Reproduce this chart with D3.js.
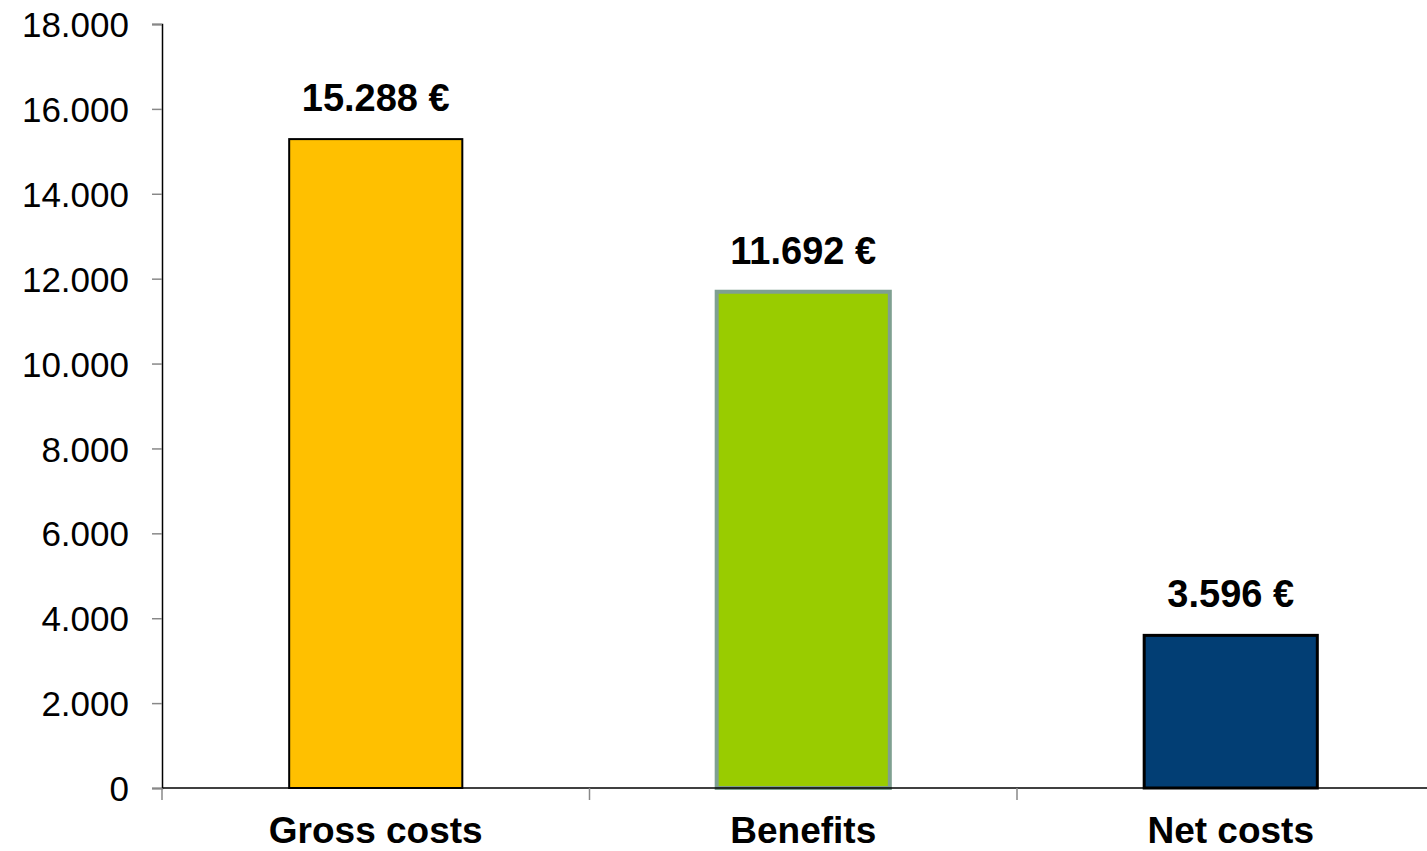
<!DOCTYPE html>
<html>
<head>
<meta charset="utf-8">
<script src="https://cdn.jsdelivr.net/npm/d3@7"></script>
<style>
  body { margin: 0; background: #fff; }
  text { font-family: "Liberation Sans", Arial, sans-serif; }
</style>
</head>
<body>
<svg id="chart"></svg>
<script>
// data
let categories = ["Gross costs", "Benefits", "Net costs"];
let values = [15288, 11692, 3596];
let valueLabels = ["15.288 €", "11.692 €", "3.596 €"];
let yTicks = [0, 2000, 4000, 6000, 8000, 10000, 12000, 14000, 16000, 18000];

let w = 1427, h = 851;
let plotLeft = 162, plotRight = 1444.5, plotTop = 24, plotBottom = 788;

let fills = ["#FFC000", "#99CC00", "#023E74"];
let strokes = ["#000", "#7FA091", "#000"];
let strokeW = [2, 4, 3];

let svg = d3.select("#chart")
    .attr("width", w)
    .attr("height", h);

let x = d3.scaleBand()
    .domain(categories)
    .range([plotLeft, plotRight])
    .padding(0);

let y = d3.scaleLinear()
    .domain([0, 18000])
    .range([plotBottom, plotTop]);

let fmt = d => d === 0 ? "0" : d3.format(",")(d).replace(/,/g, ".");

// y axis
let yAxis = d3.axisLeft(y)
    .tickValues(yTicks)
    .tickFormat(fmt)
    .tickSize(10)
    .tickPadding(23);

let gy = svg.append("g")
    .attr("transform", "translate(" + plotLeft + ",0)")
    .call(yAxis);
gy.select(".domain").attr("stroke", "#000").attr("stroke-width", 1.5);
gy.selectAll(".tick line").attr("stroke", "#888").attr("stroke-width", 1.5);
gy.selectAll(".tick text")
    .attr("fill", "#000")
    .style("font-size", "35px")
    .attr("dy", "0.36em");

// bars
let barW = x.bandwidth() * 0.405;
svg.selectAll("rect.bar")
    .data(values)
    .enter()
    .append("rect")
    .attr("class", "bar")
    .attr("x", (d, i) => x(categories[i]) + x.bandwidth() / 2 - barW / 2)
    .attr("y", d => y(d))
    .attr("width", barW)
    .attr("height", d => plotBottom - y(d))
    .attr("fill", (d, i) => fills[i])
    .attr("stroke", (d, i) => strokes[i])
    .attr("stroke-width", (d, i) => strokeW[i]);

// x axis line + category ticks
svg.append("line")
    .attr("x1", plotLeft).attr("x2", w)
    .attr("y1", plotBottom).attr("y2", plotBottom)
    .attr("stroke", "#000")
    .attr("stroke-width", 1.5);

let sepTicks = categories.map(c => x(c));
svg.selectAll("line.sep")
    .data(sepTicks)
    .enter()
    .append("line")
    .attr("class", "sep")
    .attr("x1", d => d).attr("x2", d => d)
    .attr("y1", plotBottom).attr("y2", plotBottom + 12)
    .attr("stroke", "#888")
    .attr("stroke-width", 1.5);

svg.selectAll("text.cat")
    .data(categories)
    .enter()
    .append("text")
    .attr("class", "cat")
    .attr("x", d => x(d) + x.bandwidth() / 2)
    .attr("y", 843)
    .attr("text-anchor", "middle")
    .style("font-size", "37px")
    .style("font-weight", "bold")
    .text(d => d);

// value labels
svg.selectAll("text.val")
    .data(values)
    .enter()
    .append("text")
    .attr("class", "val")
    .attr("x", (d, i) => x(categories[i]) + x.bandwidth() / 2)
    .attr("y", d => y(d) - 28)
    .attr("text-anchor", "middle")
    .style("font-size", "38px")
    .style("font-weight", "bold")
    .text((d, i) => valueLabels[i]);
</script>
</body>
</html>
